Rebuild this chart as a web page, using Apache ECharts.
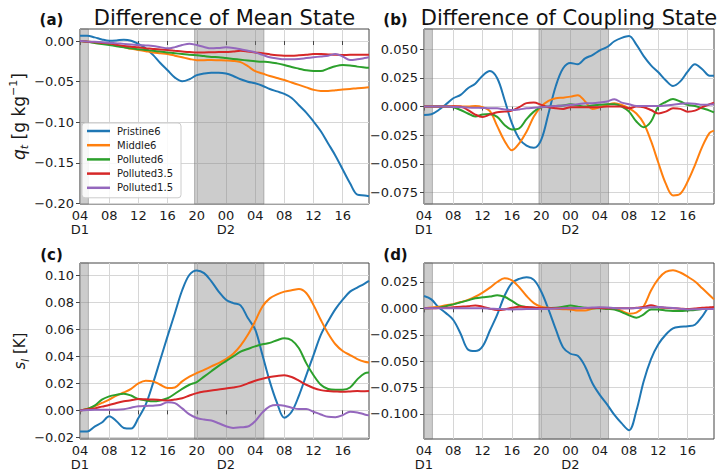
<!DOCTYPE html>
<html><head><meta charset="utf-8">
<script src="https://cdn.jsdelivr.net/npm/echarts@6/dist/echarts.min.js"></script>
<style>html,body{margin:0;padding:0;background:#fff}#c{width:720px;height:474px}</style>
</head><body><div id="c"></div>
<script>
// ---------- data ----------
const HOURS = [4,5,6,7,8,9,10,11,12,13,14,15,16,17,18,19,20,21,22,23,24,25,26,27,28,29,30,31,32,33,34,35,36,37,38,39,40,41,42,43,43.6];
const SERIES_NAMES = ['Pristine6','Middle6','Polluted6','Polluted3.5','Polluted1.5'];

// (a) Difference of Mean State, q_t [g kg-1]
const A_PRISTINE6 = [0.0066,0.0066,0.0045,0.002,0.0004,0.0008,0.0016,0.0004,-0.0037,-0.009,-0.017,-0.027,-0.036,-0.045,-0.0496,-0.047,-0.042,-0.040,-0.039,-0.039,-0.040,-0.043,-0.047,-0.050,-0.052,-0.055,-0.059,-0.062,-0.065,-0.070,-0.079,-0.088,-0.099,-0.111,-0.126,-0.141,-0.158,-0.175,-0.189,-0.190,-0.191];
const A_MIDDLE6 = [0,-0.0005,-0.0015,-0.0027,-0.0037,-0.0055,-0.0075,-0.0095,-0.011,-0.0125,-0.014,-0.015,-0.016,-0.018,-0.020,-0.022,-0.0235,-0.0235,-0.0234,-0.0237,-0.024,-0.0245,-0.026,-0.031,-0.037,-0.040,-0.043,-0.0455,-0.048,-0.051,-0.054,-0.057,-0.060,-0.0615,-0.0615,-0.0605,-0.0595,-0.059,-0.058,-0.0575,-0.057];
const A_POLLUTED6 = [0,-0.001,-0.0025,-0.0038,-0.005,-0.0063,-0.0076,-0.009,-0.010,-0.011,-0.012,-0.013,-0.014,-0.015,-0.016,-0.017,-0.0176,-0.0185,-0.0195,-0.020,-0.021,-0.022,-0.023,-0.024,-0.025,-0.0255,-0.026,-0.0275,-0.0295,-0.032,-0.034,-0.036,-0.037,-0.037,-0.034,-0.031,-0.0295,-0.030,-0.0315,-0.0325,-0.033];
const A_POLLUTED35 = [0,-0.0008,-0.0015,-0.0023,-0.003,-0.0045,-0.006,-0.007,-0.0078,-0.0088,-0.0097,-0.0105,-0.011,-0.012,-0.013,-0.0135,-0.014,-0.014,-0.0138,-0.0136,-0.0135,-0.0128,-0.012,-0.0128,-0.014,-0.015,-0.0164,-0.0175,-0.018,-0.018,-0.0176,-0.017,-0.016,-0.016,-0.0165,-0.017,-0.0172,-0.017,-0.017,-0.0168,-0.017];
const A_POLLUTED15 = [0,-0.0005,-0.001,-0.0015,-0.002,-0.0028,-0.0035,-0.0042,-0.005,-0.0055,-0.006,-0.0075,-0.009,-0.0075,-0.005,-0.0033,-0.005,-0.0074,-0.009,-0.0085,-0.0078,-0.0085,-0.010,-0.012,-0.014,-0.017,-0.020,-0.0215,-0.0225,-0.0225,-0.022,-0.021,-0.020,-0.019,-0.018,-0.016,-0.019,-0.0234,-0.0225,-0.021,-0.020];

// (b) Difference of Coupling State, q_t
const B_PRISTINE6 = [-0.0073,-0.0067,-0.003,0.002,0.0073,0.0102,0.016,0.020,0.027,0.031,0.0247,0.006,-0.0145,-0.028,-0.034,-0.036,-0.029,-0.006,0.018,0.0334,0.038,0.037,0.042,0.045,0.049,0.052,0.057,0.060,0.0616,0.054,0.044,0.036,0.030,0.023,0.018,0.022,0.0305,0.037,0.0326,0.027,0.027];
const B_MIDDLE6 = [0,0,0,0,0,0,0,0.0005,-0.0005,-0.004,-0.017,-0.030,-0.038,-0.032,-0.022,-0.0087,0,0.005,0.0073,0.0078,0.0087,0.010,0.0044,-0.002,-0.0005,0.0015,0.003,0.0015,-0.0015,-0.006,-0.0145,-0.030,-0.049,-0.067,-0.0775,-0.076,-0.0654,-0.051,-0.035,-0.023,-0.021];
const B_POLLUTED6 = [0,0,0,0,-0.0005,-0.003,-0.006,-0.0087,-0.007,-0.0064,-0.009,-0.016,-0.020,-0.019,-0.011,-0.0044,-0.0005,0,0.0005,0.001,0.002,0.001,0,0.001,0.0015,0.002,0.002,0,-0.0044,-0.013,-0.018,-0.013,0,0.004,0.0067,0.0044,0.0015,0.0005,-0.0015,-0.0035,-0.005];
const B_POLLUTED35 = [0,0,0,0,0.0003,0,-0.003,-0.007,-0.009,-0.007,-0.005,-0.0044,-0.0035,-0.0005,0.003,0.0035,0.0015,-0.0005,-0.0015,-0.002,-0.0005,-0.0005,-0.0005,-0.0005,-0.0005,0,0,0,-0.0015,0,-0.0005,-0.003,-0.006,-0.0044,-0.0015,-0.002,-0.0044,-0.0035,-0.0005,0.002,0.0035];
const B_POLLUTED15 = [0,0,0,0,-0.0003,-0.0005,-0.0008,-0.001,-0.0012,-0.0015,-0.0015,-0.0025,-0.003,-0.0025,-0.0015,-0.001,-0.0005,0,0.0005,0.001,0.0015,0.002,0.003,0.003,0.0035,0.0045,0.0064,0.0035,0.002,0.0005,0.0005,0.0005,0.0005,0.001,0.0015,0.0025,0.003,0.0025,0.0015,0.0018,0.002];

// (c) Difference of Mean State, s_l [K]
const C_PRISTINE6 = [-0.0156,-0.0156,-0.012,-0.009,-0.0044,-0.008,-0.013,-0.0135,-0.0057,0.0042,0.020,0.0375,0.055,0.072,0.089,0.1005,0.1037,0.1017,0.0956,0.088,0.082,0.0795,0.0778,0.0684,0.060,0.041,0.0215,0.0055,-0.0055,-0.001,0.011,0.026,0.041,0.056,0.066,0.075,0.082,0.088,0.091,0.094,0.096];
const C_MIDDLE6 = [0,0.001,0.003,0.0055,0.008,0.011,0.0133,0.016,0.020,0.022,0.0215,0.019,0.0165,0.017,0.0215,0.025,0.0277,0.030,0.0326,0.035,0.038,0.042,0.048,0.056,0.066,0.077,0.083,0.086,0.088,0.089,0.090,0.087,0.078,0.067,0.057,0.049,0.044,0.041,0.038,0.036,0.0355];
const C_POLLUTED6 = [0,0.001,0.0035,0.008,0.0104,0.0116,0.0123,0.011,0.0084,0.0074,0.0067,0.0074,0.009,0.0123,0.016,0.019,0.021,0.025,0.029,0.033,0.0365,0.040,0.0435,0.0455,0.0474,0.049,0.050,0.052,0.0535,0.052,0.046,0.035,0.026,0.019,0.0158,0.0152,0.0153,0.017,0.023,0.0275,0.028];
const C_POLLUTED35 = [0,0.0008,0.0015,0.0028,0.004,0.0055,0.0067,0.0075,0.0084,0.0082,0.008,0.0077,0.0074,0.008,0.009,0.011,0.0128,0.014,0.0148,0.0155,0.0163,0.017,0.018,0.020,0.022,0.0235,0.0247,0.0255,0.026,0.0247,0.022,0.019,0.0166,0.015,0.0143,0.014,0.0138,0.014,0.0143,0.0142,0.0143];
const C_POLLUTED15 = [0,0.0002,0.0004,0.0005,0.0005,0.0005,0.0008,0.002,0.003,0.0033,0.0035,0.004,0.006,0.0054,0.0015,-0.003,-0.0056,-0.0068,-0.0075,-0.0095,-0.0118,-0.013,-0.0125,-0.012,-0.008,-0.0015,0.003,0.004,0.0035,0.002,0.001,0.001,-0.001,-0.003,-0.0048,-0.005,-0.0035,-0.001,-0.0015,-0.003,-0.0037];

// (d) Difference of Coupling State, s_l
const D_PRISTINE6 = [0.0117,0.0085,0.001,-0.0045,-0.011,-0.024,-0.039,-0.0405,-0.036,-0.021,-0.006,0.012,0.024,0.028,0.0295,0.027,0.016,-0.001,-0.020,-0.037,-0.043,-0.045,-0.055,-0.071,-0.082,-0.091,-0.101,-0.109,-0.1155,-0.097,-0.069,-0.048,-0.034,-0.025,-0.019,-0.0175,-0.017,-0.0155,-0.0075,0.0005,0];
const D_MIDDLE6 = [0,0.0008,0.0016,0.003,0.004,0.006,0.008,0.011,0.015,0.0197,0.025,0.0285,0.0265,0.020,0.0117,0.005,0.0015,0.0005,-0.0003,-0.0008,-0.001,-0.002,-0.002,-0.0003,0.0005,0.0003,-0.0003,-0.0025,-0.005,-0.004,0.002,0.017,0.028,0.0345,0.0362,0.034,0.030,0.0255,0.019,0.0125,0.0085];
const D_POLLUTED6 = [0,0.0003,0.0006,0.002,0.0038,0.0057,0.0076,0.0095,0.0105,0.0112,0.0125,0.011,0.007,0.0028,0.0013,0.0005,0,0.0003,0.0005,0.0015,0.0028,0.0016,0.0005,0,0,-0.0005,-0.001,-0.0035,-0.0066,-0.0089,-0.0057,-0.001,-0.001,-0.002,-0.0025,-0.0025,-0.002,-0.0015,-0.0005,0,0];
const D_POLLUTED35 = [0,0,0.0003,0.0005,0.001,0.0015,0.002,0.0028,0.0016,-0.0003,-0.0016,-0.001,0.0005,0.0016,0.0013,0.0008,0.0003,0,0,0,0,0,0.0003,0.0003,0.0003,0,0,0,0,0.0005,0.0013,0.003,0.0013,0.0005,0,-0.0003,-0.0006,0,0.0006,0.001,0.0013];
const D_POLLUTED15 = [0,0,0,0,0,0,0,0,0,-0.0003,-0.0006,-0.0008,-0.001,-0.0008,-0.0006,-0.0006,-0.0006,-0.0004,-0.0002,0,0,0.0003,0.0005,0.0008,0.001,0.0008,0.0003,0,0,0.0003,0.0006,0.001,0.0013,0.0008,0.0003,-0.0003,-0.001,-0.0008,-0.0006,-0.0006,-0.0006];

// night periods (hours since D1 00:00)
const NIGHT = [[4, 5.15], [19.7, 29.2]];

// ticks
const X_TICKS = [4,8,12,16,20,24,28,32,36,40];
const X_TICK_LABELS = ['04\nD1','08','12','16','20','00\nD2','04','08','12','16'];
const Y_TICKS_A = [-0.20,-0.15,-0.10,-0.05,0.00];
const Y_LABELS_A = ['\u22120.20','\u22120.15','\u22120.10','\u22120.05','0.00'];
const Y_TICKS_B = [-0.075,-0.050,-0.025,0.000,0.025,0.050];
const Y_LABELS_B = ['\u22120.075','\u22120.050','\u22120.025','0.000','0.025','0.050'];
const Y_TICKS_C = [-0.02,0.00,0.02,0.04,0.06,0.08,0.10];
const Y_LABELS_C = ['\u22120.02','0.00','0.02','0.04','0.06','0.08','0.10'];
const Y_TICKS_D = [-0.100,-0.075,-0.050,-0.025,0.000,0.025];
const Y_LABELS_D = ['\u22120.100','\u22120.075','\u22120.050','\u22120.025','0.000','0.025'];

const PANEL_TITLES = ['Difference of Mean State', 'Difference of Coupling State'];
const PANEL_LETTERS = ['(a)','(b)','(c)','(d)'];

// ---------- styling / layout ----------
const COLORS = ['#1f77b4','#ff7f0e','#2ca02c','#d62728','#9467bd'];
const FONT = '"DejaVu Sans", Verdana, sans-serif';
const TXT = '#1a1a1a';

const PANELS = [
  {data:[A_PRISTINE6,A_MIDDLE6,A_POLLUTED6,A_POLLUTED35,A_POLLUTED15], yt:Y_TICKS_A, yl:Y_LABELS_A, min:-0.2005, max:0.0148},
  {data:[B_PRISTINE6,B_MIDDLE6,B_POLLUTED6,B_POLLUTED35,B_POLLUTED15], yt:Y_TICKS_B, yl:Y_LABELS_B, min:-0.085, max:0.0677},
  {data:[C_PRISTINE6,C_MIDDLE6,C_POLLUTED6,C_POLLUTED35,C_POLLUTED15], yt:Y_TICKS_C, yl:Y_LABELS_C, min:-0.0212, max:0.1092},
  {data:[D_PRISTINE6,D_MIDDLE6,D_POLLUTED6,D_POLLUTED35,D_POLLUTED15], yt:Y_TICKS_D, yl:Y_LABELS_D, min:-0.1238, max:0.043}
];

const grids = [
  {left:80, top:29, width:289, height:175},
  {left:424, top:29, width:290, height:175},
  {left:80, top:263, width:289, height:176},
  {left:424, top:263, width:290, height:176}
].map(g => Object.assign({show:true, borderColor:'#444', borderWidth:1, backgroundColor:'transparent'}, g));

const xAxes = grids.map((g, i) => ({
  type:'value', gridIndex:i, min:4, max:43.6,
  axisLine:{show:false},
  axisTick:{show:true, customValues:X_TICKS, length:4, lineStyle:{color:'#444'}},
  axisLabel:{customValues:X_TICKS, fontSize:13, lineHeight:14, margin:4, color:TXT, fontFamily:FONT,
    formatter: v => { const k = X_TICKS.indexOf(v); return k >= 0 ? X_TICK_LABELS[k] : ''; }},
  splitLine:{show:true, lineStyle:{color:'#d6d6d6', width:1}}
}));

const yAxes = PANELS.map((p, i) => {
  const ax = {
    type:'value', gridIndex:i, min:p.min, max:p.max,
    axisLine:{show:false},
    axisTick:{show:true, customValues:p.yt, length:4, lineStyle:{color:'#444'}},
    axisLabel:{customValues:p.yt, fontSize:13, margin:6, color:TXT, fontFamily:FONT,
      formatter: v => { let k = -1; p.yt.forEach((t, j) => { if (Math.abs(t - v) < 1e-9) k = j; }); return k >= 0 ? p.yl[k] : ''; }},
    splitLine:{show:true, lineStyle:{color:'#d6d6d6', width:1}}
  };
  if (i === 0) {
    ax.name = '{q|q}{s|t} [g kg{p|\u22121}]';
    ax.nameLocation = 'middle'; ax.nameGap = 47; ax.nameRotate = 90;
    ax.nameTextStyle = {fontSize:17, color:TXT, fontFamily:FONT, lineHeight:22,
      rich:{q:{fontSize:17, fontStyle:'italic', fontFamily:FONT, color:TXT, verticalAlign:'middle'},
            s:{fontSize:11, fontStyle:'italic', fontFamily:FONT, color:TXT, verticalAlign:'bottom'},
            p:{fontSize:11, fontFamily:FONT, color:TXT, verticalAlign:'top'}}};
  }
  if (i === 2) {
    ax.name = '{q|s}{s|l} [K]';
    ax.nameLocation = 'middle'; ax.nameGap = 46; ax.nameRotate = 90;
    ax.nameTextStyle = {fontSize:15, color:TXT, fontFamily:FONT, lineHeight:20,
      rich:{q:{fontSize:15, fontStyle:'italic', fontFamily:FONT, color:TXT},
            s:{fontSize:10, fontStyle:'italic', fontFamily:FONT, color:TXT, verticalAlign:'bottom'}}};
  }
  return ax;
});

const series = [];
PANELS.forEach((p, gi) => {
  series.push({
    type:'line', name:'night' + gi, xAxisIndex:gi, yAxisIndex:gi, data:[], silent:true,
    markArea:{silent:true, itemStyle:{color:'rgba(128,128,128,0.4)', borderColor:'rgba(110,110,110,0.45)', borderWidth:1},
      data: NIGHT.map(n => [{xAxis:n[0]}, {xAxis:n[1]}])}
  });
  p.data.forEach((arr, si) => {
    series.push({
      type:'line', name:SERIES_NAMES[si], xAxisIndex:gi, yAxisIndex:gi,
      data: HOURS.map((h, k) => [h, arr[k]]),
      smooth:0.35, showSymbol:false, symbol:'none', clip:true,
      lineStyle:{width:2, color:COLORS[si]}, itemStyle:{color:COLORS[si]},
      emphasis:{disabled:true}
    });
  });
});

const graphic = [
  {type:'text', x:51.5, y:20, style:{text:PANEL_LETTERS[0], font:'bold 15px ' + FONT, fill:'#111', align:'center', verticalAlign:'middle', textAlign:'center', textVerticalAlign:'middle'}},
  {type:'text', x:395.5, y:20, style:{text:PANEL_LETTERS[1], font:'bold 15px ' + FONT, fill:'#111', align:'center', verticalAlign:'middle', textAlign:'center', textVerticalAlign:'middle'}},
  {type:'text', x:51.5, y:254.5, style:{text:PANEL_LETTERS[2], font:'bold 15px ' + FONT, fill:'#111', align:'center', verticalAlign:'middle', textAlign:'center', textVerticalAlign:'middle'}},
  {type:'text', x:395.5, y:254.5, style:{text:PANEL_LETTERS[3], font:'bold 15px ' + FONT, fill:'#111', align:'center', verticalAlign:'middle', textAlign:'center', textVerticalAlign:'middle'}},
  {type:'text', x:224.5, y:18, style:{text:PANEL_TITLES[0], font:'21px ' + FONT, fill:'#111', align:'center', verticalAlign:'middle', textAlign:'center', textVerticalAlign:'middle'}},
  {type:'text', x:569, y:18, style:{text:PANEL_TITLES[1], font:'21px ' + FONT, fill:'#111', align:'center', verticalAlign:'middle', textAlign:'center', textVerticalAlign:'middle'}}
];

const chart = echarts.init(document.getElementById('c'), null, {renderer:'svg', width:720, height:474});
chart.setOption({
  backgroundColor:'#ffffff',
  animation:false,
  grid:grids, xAxis:xAxes, yAxis:yAxes, series:series, graphic:graphic,
  legend:{
    data:SERIES_NAMES, orient:'vertical', left:82, top:123,
    icon:'rect', itemWidth:23, itemHeight:2.5, itemGap:4.2,
    padding:[3,8,5,5], backgroundColor:'rgba(255,255,255,0.85)',
    borderColor:'#cccccc', borderWidth:1, borderRadius:3,
    textStyle:{fontSize:10, color:TXT, fontFamily:FONT, padding:[0,0,0,2]},
    selectedMode:false
  }
});
</script>
</body></html>
